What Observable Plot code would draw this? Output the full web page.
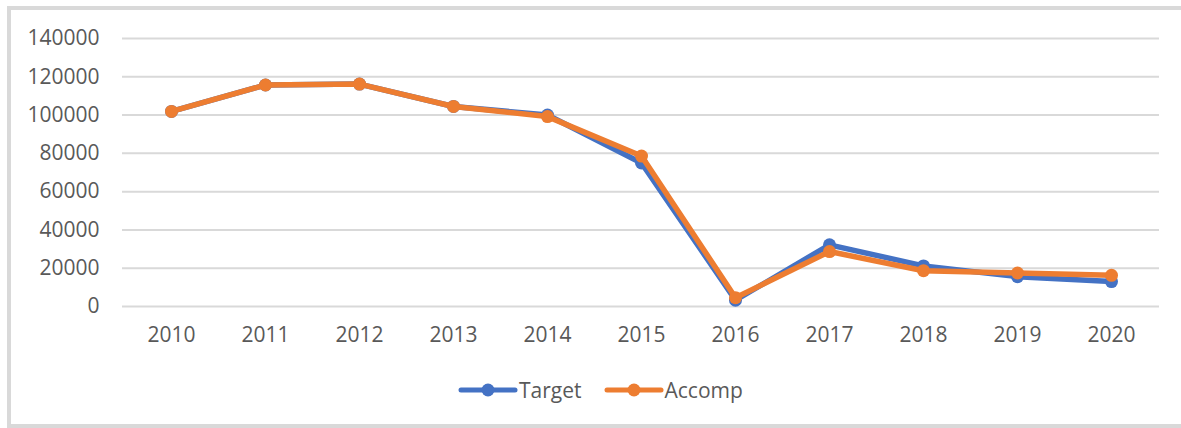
<!DOCTYPE html>
<html>
<head>
<meta charset="utf-8">
<script src="https://cdn.jsdelivr.net/npm/d3@7"></script>
<script src="https://cdn.jsdelivr.net/npm/@observablehq/plot@0.6"></script>
<style>
  body { margin: 0; background: #fff; font-family: "Open Sans", sans-serif; }
  #wrap { position: relative; width: 1181px; height: 428px; overflow: hidden; background: #fff; }
  #frame { position: absolute; left: 7px; top: 6px; width: 1200px; height: 422px; border: 4px solid #d9d9d9; box-sizing: border-box; }
  #chart { position: absolute; left: 0; top: 0; }
  #legend { position: absolute; left: 458px; top: 376px; display: flex; justify-content: flex-start; gap: 22px; }
  .item { display: flex; align-items: center; font-size: 21px; color: #595959; }
  .item svg { margin-right: 1px; }
</style>
</head>
<body>
<div id="wrap">
  <div id="frame"></div>
  <div id="chart"></div>
  <div id="legend"></div>
</div>
<script>
const years = ["2010","2011","2012","2013","2014","2015","2016","2017","2018","2019","2020"];
const target = [101900, 115700, 116200, 104500, 100000, 75000, 3300, 32200, 21200, 15600, 13000];
const accomp = [101900, 115700, 116200, 104500, 99200, 78600, 4600, 28700, 18700, 17500, 16300];
const yTicks = [0, 20000, 40000, 60000, 80000, 100000, 120000, 140000];
const seriesNames = ["Target", "Accomp"];
const seriesColors = ["#4472C4", "#ED7D31"];

const rows = [];
years.forEach((y, i) => {
  rows.push({year: y, value: target[i], series: seriesNames[0]});
  rows.push({year: y, value: accomp[i], series: seriesNames[1]});
});
const tRows = rows.filter(d => d.series === seriesNames[0]);
const aRows = rows.filter(d => d.series === seriesNames[1]);

const chart = Plot.plot({
  width: 1181,
  height: 360,
  marginLeft: 122,
  marginRight: 22,
  marginTop: 38,
  marginBottom: 54,
  style: { fontFamily: "Open Sans, sans-serif", fontSize: "21px", color: "#595959", background: "transparent" },
  x: { type: "point", domain: years, padding: 0.5, label: null },
  y: { domain: [0, 140000], ticks: yTicks, label: null },
  marks: [
    Plot.ruleY(yTicks, { stroke: "#d9d9d9", strokeWidth: 2 }),
    Plot.axisY({ ticks: yTicks, tickSize: 0, tickPadding: 23, tickFormat: d => String(d), label: null, fill: "#595959", fontSize: 21 }),
    Plot.axisX({ tickSize: 0, tickPadding: 21, label: null, fill: "#595959", fontSize: 21 }),
    Plot.line(tRows, { x: "year", y: "value", stroke: seriesColors[0], strokeWidth: 5.5, strokeLinejoin: "round", strokeLinecap: "round" }),
    Plot.dot(tRows, { x: "year", y: "value", r: 6.5, fill: seriesColors[0], stroke: "none" }),
    Plot.line(aRows, { x: "year", y: "value", stroke: seriesColors[1], strokeWidth: 5.5, strokeLinejoin: "round", strokeLinecap: "round" }),
    Plot.dot(aRows, { x: "year", y: "value", r: 6.5, fill: seriesColors[1], stroke: "none" })
  ]
});
document.getElementById("chart").appendChild(chart);

const legend = document.getElementById("legend");
seriesNames.forEach((name, i) => {
  const item = document.createElement("div");
  item.className = "item";
  item.innerHTML = `<svg width="60" height="20"><line x1="3" y1="10" x2="57" y2="10" stroke="${seriesColors[i]}" stroke-width="5" stroke-linecap="round"/><circle cx="30" cy="10" r="6.5" fill="${seriesColors[i]}"/></svg><span>${name}</span>`;
  legend.appendChild(item);
});
</script>
</body>
</html>
